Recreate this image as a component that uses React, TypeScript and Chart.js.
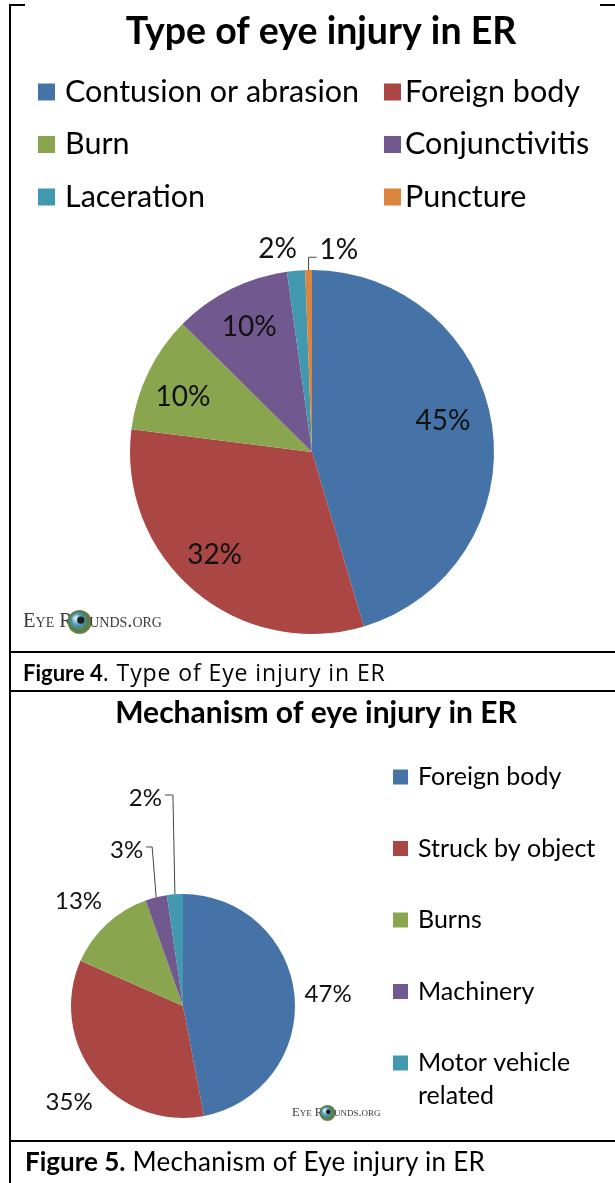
import React, { useEffect, useRef } from 'react';
import { Chart, registerables } from 'chart.js';

Chart.register(...registerables);

// ---------- Data ----------
const typeTitle = 'Type of eye injury in ER';
const typeCategories = ['Contusion or abrasion', 'Foreign body', 'Burn', 'Conjunctivitis', 'Laceration', 'Puncture'];
const typeValues = [45.4, 31.6, 10.4, 10.4, 1.6, 0.6];
const typeColors = ['#4572A7', '#AA4643', '#89A54E', '#71588F', '#4198AF', '#DB843D'];

const mechTitle = 'Mechanism of eye injury in ER';
const mechCategories = ['Foreign body', 'Struck by object', 'Burns', 'Machinery', 'Motor vehicle related'];
const mechValues = [47.0, 34.6, 13.0, 3.1, 2.3];
const mechColors = ['#4572A7', '#AA4643', '#89A54E', '#71588F', '#4198AF'];

const caption1Bold = 'Figure 4';
const caption1Rest = '. Type of Eye injury in ER';
const caption2Bold = 'Figure 5.';
const caption2Rest = ' Mechanism of Eye injury in ER';

const watermarkLeft = 'Eye R';
const watermarkRight = 'unds.org';

const FONT = 'Lato, "Open Sans", sans-serif';

// ---------- Helpers ----------
function drawWatermark(ctx: CanvasRenderingContext2D, x: number, y: number, size: number, globeR: number) {
  ctx.save();
  ctx.font = `small-caps ${size}px "Liberation Serif", serif`;
  try { (ctx as any).fontVariantCaps = 'small-caps'; } catch (e) { /* ignore */ }
  ctx.fillStyle = '#3a3a3a';
  ctx.textBaseline = 'middle';
  ctx.textAlign = 'left';
  ctx.fillText(watermarkLeft, x, y);
  const w = ctx.measureText(watermarkLeft).width;
  const gx = x + w + globeR * 0.55;
  const g = ctx.createRadialGradient(gx - globeR * 0.35, y - globeR * 0.35, 1, gx, y, globeR);
  g.addColorStop(0, '#cfe8f0');
  g.addColorStop(0.45, '#4f93b5');
  g.addColorStop(0.8, '#4d7f3e');
  g.addColorStop(1, '#8a7a4a');
  ctx.fillStyle = g;
  ctx.beginPath();
  ctx.arc(gx, y, globeR, 0, Math.PI * 2);
  ctx.fill();
  ctx.fillStyle = '#1d1d1d';
  ctx.beginPath();
  ctx.arc(gx + globeR * 0.1, y - globeR * 0.15, globeR * 0.3, 0, Math.PI * 2);
  ctx.fill();
  ctx.fillStyle = '#3a3a3a';
  ctx.fillText(watermarkRight, gx + globeR * 0.8, y);
  ctx.restore();
}

function wrapText(ctx: CanvasRenderingContext2D, text: string, maxW: number): string[] {
  const words = text.split(' ');
  const lines: string[] = [];
  let cur = '';
  for (const w of words) {
    const t = cur ? cur + ' ' + w : w;
    if (ctx.measureText(t).width > maxW && cur) {
      lines.push(cur);
      cur = w;
    } else cur = t;
  }
  if (cur) lines.push(cur);
  return lines;
}

const decorPlugin = {
  id: 'decor',
  afterDraw(chart: any, _args: any, opts: any) {
    const ctx: CanvasRenderingContext2D = chart.ctx;
    const labels: string[] = chart.data.labels;
    const ds = chart.data.datasets[0];
    const values: number[] = ds.data;
    const colors: string[] = ds.backgroundColor;
    const total = values.reduce((a, b) => a + b, 0);
    ctx.save();

    // Title
    const t = opts.title;
    ctx.fillStyle = '#000';
    ctx.font = `bold ${t.size}px ${FONT}`;
    ctx.textAlign = 'center';
    ctx.textBaseline = 'middle';
    ctx.fillText(t.text, t.x, t.y);

    // Legend
    const lg = opts.legend;
    ctx.font = `${lg.font}px ${FONT}`;
    ctx.textAlign = 'left';
    ctx.textBaseline = 'middle';
    labels.forEach((lab, i) => {
      let bx: number, tx: number, cy: number;
      if (lg.kind === 'grid') {
        const col = i % lg.cols;
        const row = Math.floor(i / lg.cols);
        bx = lg.colBoxX[col];
        tx = lg.colTextX[col];
        cy = lg.rowY0 + row * lg.rowStep;
      } else {
        bx = lg.boxX;
        tx = lg.textX;
        cy = lg.rowY0 + i * lg.rowStep;
      }
      ctx.fillStyle = colors[i];
      ctx.fillRect(bx, cy - lg.box / 2, lg.box, lg.box);
      ctx.fillStyle = '#000';
      const lines = lg.wrapWidth ? wrapText(ctx, lab, lg.wrapWidth) : [lab];
      lines.forEach((ln, k) => ctx.fillText(ln, tx, cy + k * (lg.lineHeight || 0)));
    });

    // Data labels
    const lb = opts.labels;
    const meta = chart.getDatasetMeta(0);
    ctx.font = `${lb.font}px ${FONT}`;
    meta.data.forEach((el: any, i: number) => {
      const p = el.getProps(['x', 'y', 'startAngle', 'endAngle', 'outerRadius'], true);
      const spec = lb.specs[i];
      const txt = Math.round((values[i] / total) * 100) + '%';
      const mid = (p.startAngle + p.endAngle) / 2;
      ctx.fillStyle = '#111';
      if (spec.rise === undefined) {
        const a = mid + (spec.shift || 0) * Math.PI / 180;
        const d = p.outerRadius * spec.r;
        ctx.textAlign = 'center';
        ctx.textBaseline = 'middle';
        ctx.fillText(txt, p.x + Math.cos(a) * d, p.y + Math.sin(a) * d);
      } else {
        const x0 = p.x + Math.cos(mid) * p.outerRadius;
        const y0 = p.y + Math.sin(mid) * p.outerRadius;
        const yL = p.y - p.outerRadius * spec.rise;
        const x1 = x0 + spec.dx;
        const x2 = x1 + spec.run;
        ctx.strokeStyle = '#444';
        ctx.lineWidth = 1;
        ctx.beginPath();
        ctx.moveTo(x0, y0);
        ctx.lineTo(x1, yL);
        ctx.lineTo(x2, yL);
        ctx.stroke();
        ctx.textBaseline = 'middle';
        ctx.textAlign = spec.run > 0 ? 'left' : 'right';
        ctx.fillText(txt, x2 + (spec.run > 0 ? 3 : -3), yL + spec.textDy);
      }
    });

    // Watermark
    const wm = opts.watermark;
    drawWatermark(ctx, wm.x, wm.y, wm.size, wm.globeR);

    ctx.restore();
  },
};

function makeConfig(cats: string[], vals: number[], cols: string[], padding: any, decor: any): any {
  return {
    type: 'pie',
    data: {
      labels: cats,
      datasets: [{ data: vals, backgroundColor: cols, borderWidth: 0 }],
    },
    options: {
      responsive: false,
      maintainAspectRatio: false,
      animation: false,
      events: [],
      layout: { padding },
      plugins: {
        legend: { display: false },
        tooltip: { enabled: false },
        title: { display: false },
        decor,
      },
    },
    plugins: [decorPlugin],
  };
}

export default function App() {
  const c1 = useRef<HTMLCanvasElement>(null);
  const c2 = useRef<HTMLCanvasElement>(null);

  useEffect(() => {
    const ch1 = new Chart(
      c1.current!,
      makeConfig(typeCategories, typeValues, typeColors, { left: 130, right: 121, top: 270, bottom: 16 }, {
        title: { text: typeTitle, x: 321, y: 32, size: 37.5 },
        legend: {
          kind: 'grid', cols: 2, colBoxX: [38, 384], colTextX: [65, 405],
          rowY0: 92, rowStep: 52.5, box: 17, font: 30.5,
        },
        labels: {
          font: 28,
          specs: [
            { r: 0.74, shift: -5 },
            { r: 0.78, shift: 3 },
            { r: 0.77, shift: -3 },
            { r: 0.77, shift: 0 },
            { r: 1.13, shift: -4.6 },
            { rise: 1.07, dx: 0, run: 8, textDy: -7 },
          ],
        },
        watermark: { x: 23, y: 622, size: 20.5, globeR: 12 },
      })
    );
    const ch2 = new Chart(
      c2.current!,
      makeConfig(mechCategories, mechValues, mechColors, { left: 71, right: 320, top: 202, bottom: 20 }, {
        title: { text: mechTitle, x: 316, y: 21, size: 30 },
        legend: {
          kind: 'list', boxX: 393, textX: 418, rowY0: 85, rowStep: 71.5, box: 15, font: 25,
          wrapWidth: 190, lineHeight: 33,
        },
        labels: {
          font: 24,
          specs: [
            { r: 1.3, shift: 0.9 },
            { r: 1.33, shift: -1.6 },
            { r: 1.32, shift: -2.1 },
            { rise: 1.42, dx: -4, run: -6, textDy: 3 },
            { rise: 1.884, dx: -2, run: -8, textDy: 3 },
          ],
        },
        watermark: { x: 292, y: 421, size: 12.5, globeR: 8 },
      })
    );
    return () => {
      ch1.destroy();
      ch2.destroy();
    };
  }, []);

  const line = (style: React.CSSProperties) => (
    <div style={{ position: 'absolute', background: '#000', ...style }} />
  );

  return (
    <div style={{ position: 'absolute', left: 0, top: 0, width: 615, height: 1183, background: '#fff', overflow: 'hidden' }}>
      <canvas ref={c1} width={615} height={650} style={{ position: 'absolute', left: 0, top: 0 }} />
      <canvas ref={c2} width={615} height={446} style={{ position: 'absolute', left: 0, top: 692 }} />
      {line({ left: 9, top: 4, width: 2, height: 1179 })}
      {line({ left: 9, top: 4, width: 16, height: 2 })}
      {line({ left: 600, top: 4, width: 15, height: 2 })}
      {line({ left: 9, top: 651, width: 606, height: 2 })}
      {line({ left: 9, top: 690, width: 606, height: 2 })}
      {line({ left: 9, top: 1140, width: 606, height: 2 })}
      <div style={{ position: 'absolute', left: 23, top: 658, fontFamily: FONT, fontSize: 22, lineHeight: '28px', color: '#000', whiteSpace: 'nowrap' }}>
        <b>{caption1Bold}</b>
        <span style={{ fontFamily: '"Open Sans", Lato, sans-serif', fontSize: 23, letterSpacing: '0.9px' }}>{caption1Rest}</span>
      </div>
      <div style={{ position: 'absolute', left: 25, top: 1146, fontFamily: FONT, fontSize: 26, lineHeight: '30px', color: '#000', whiteSpace: 'nowrap' }}>
        <b>{caption2Bold}</b>
        <span style={{ letterSpacing: '0.3px' }}>{caption2Rest}</span>
      </div>
    </div>
  );
}
